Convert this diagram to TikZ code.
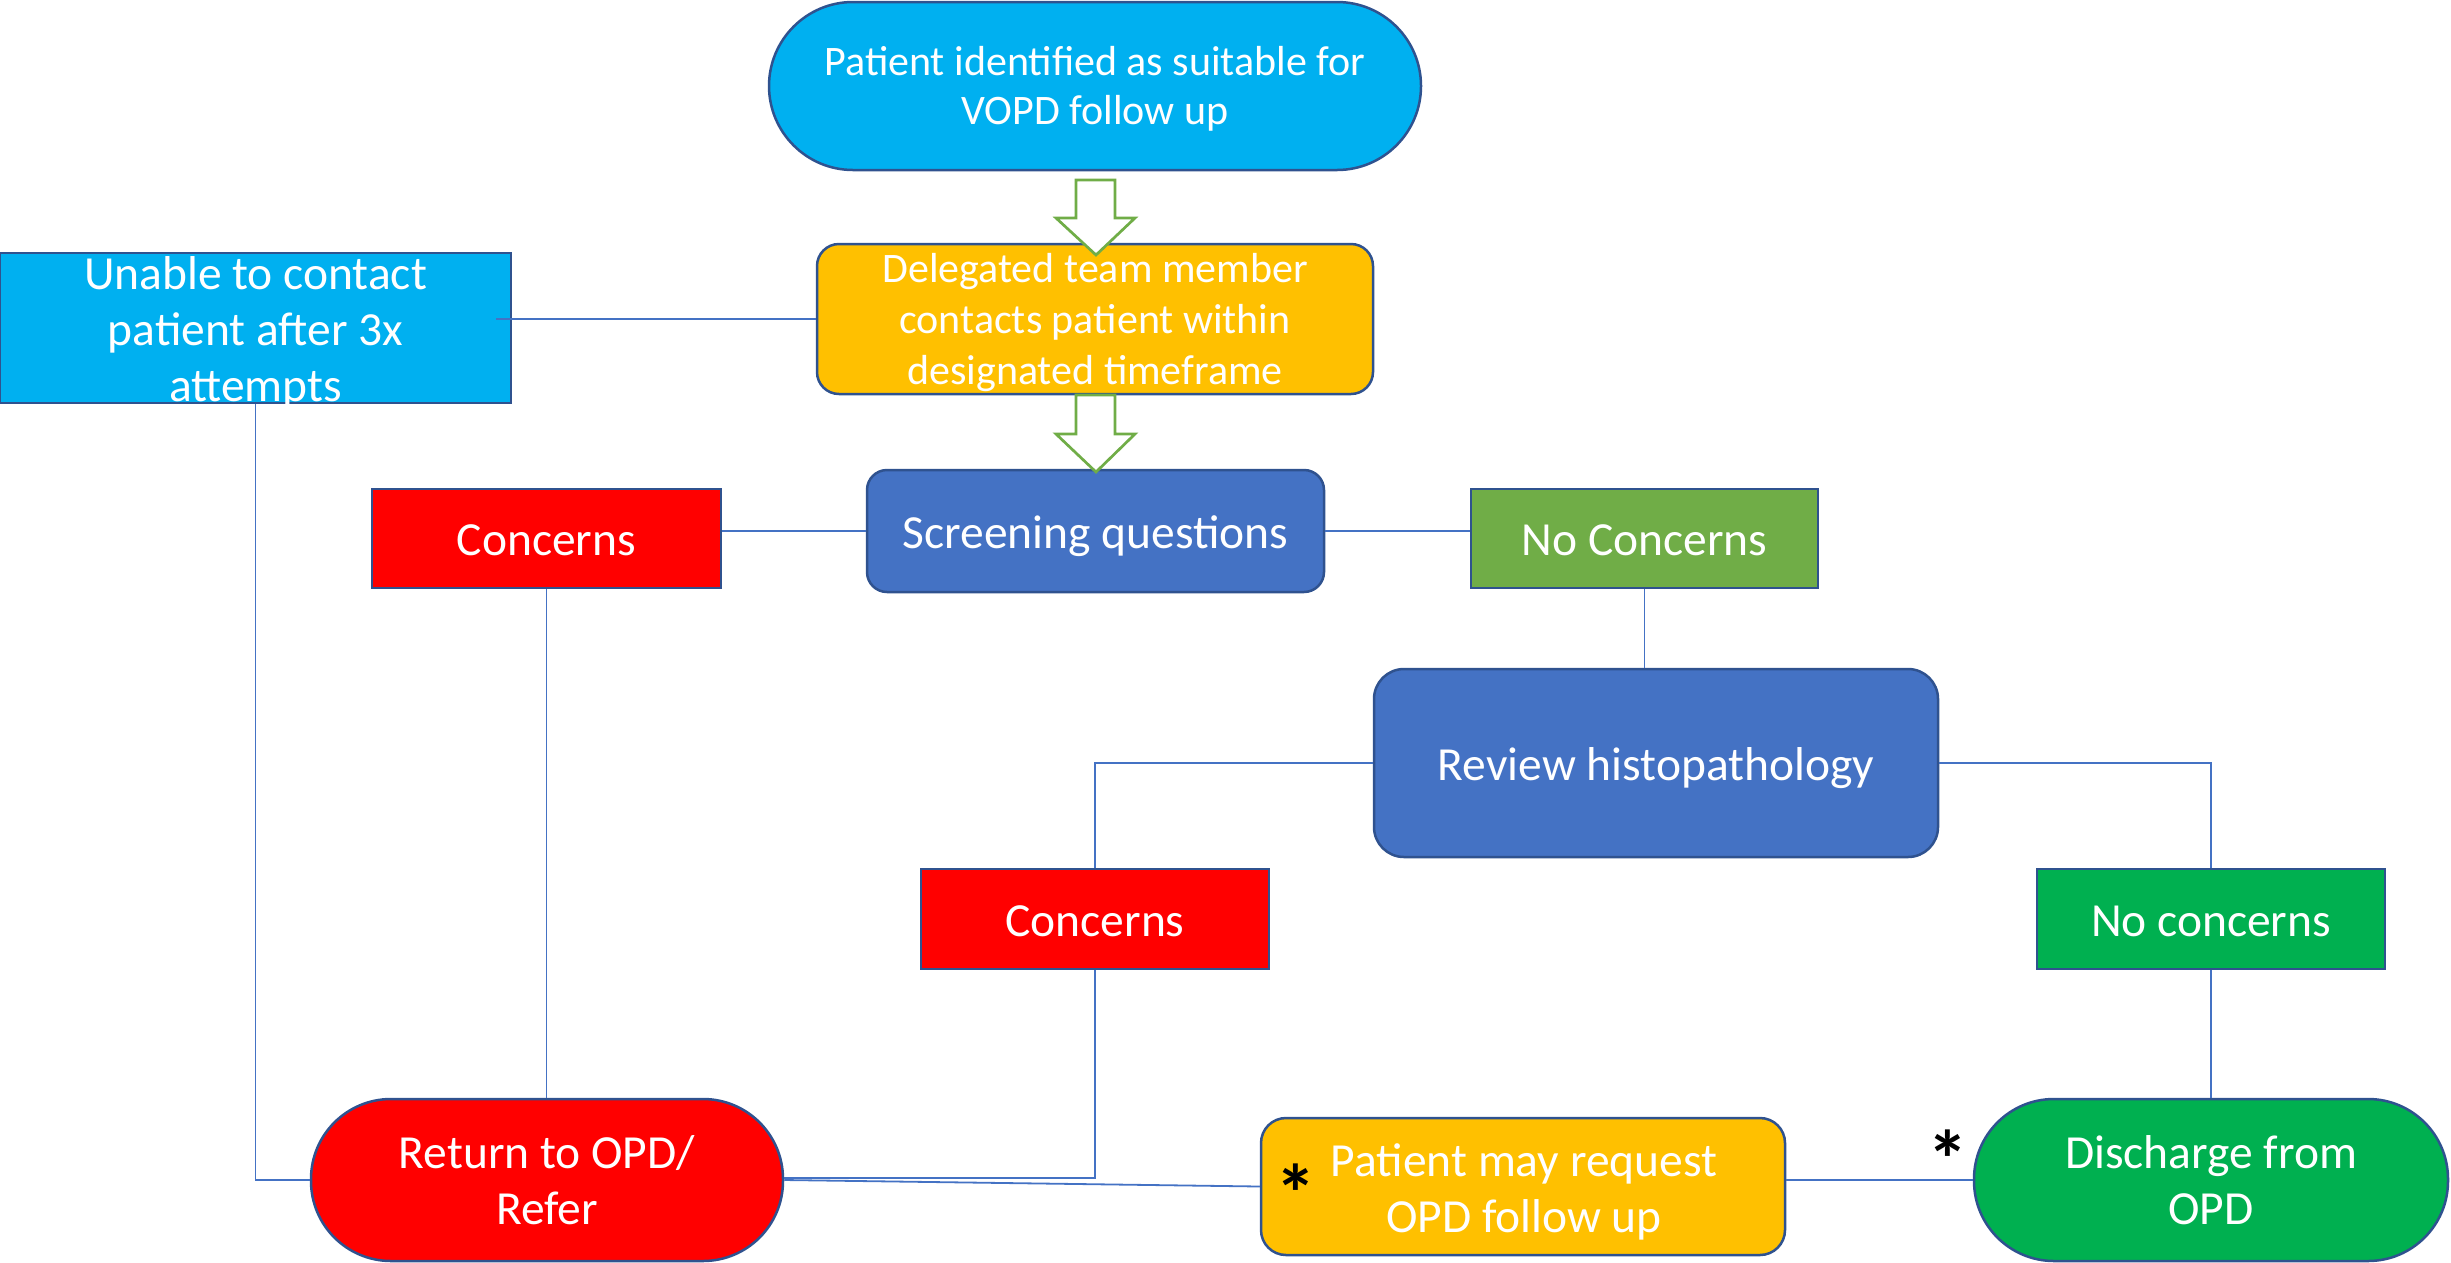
\documentclass[tikz,border=0pt]{standalone}
\usepackage{fontspec}
\setmainfont{Carlito}
\usetikzlibrary{calc}
\definecolor{skyb}{HTML}{00B0F0}
\definecolor{gold}{HTML}{FFC000}
\definecolor{blu}{HTML}{4472C4}
\definecolor{redd}{HTML}{FF0000}
\definecolor{lgreen}{HTML}{70AD47}
\definecolor{dgreen}{HTML}{00B050}
\definecolor{edgeblue}{HTML}{2F528F}
\begin{document}
\begin{tikzpicture}[x=1pt,y=-1pt,
  box/.style={draw=edgeblue, line width=2.5pt, text=white, align=center, inner sep=0pt},
  txt/.style={text=white, align=center, inner sep=0pt},
  oneline/.style={text height=36pt, text depth=2pt},
  bigtext/.style={font=\fontsize{47.5}{56}\selectfont},
  smalltext/.style={font=\fontsize{42}{49}\selectfont},
  deltext/.style={font=\fontsize{42}{51}\selectfont},
  conn/.style={draw=blu, line width=1.8pt},
  hollow/.style={draw=lgreen, fill=white, line width=2.7pt, line join=miter},
  astx/.style={font=\fontsize{82}{82}\selectfont\bfseries, text=black, inner sep=0pt}]
\useasboundingbox (0,0) rectangle (2451,1262);

\node[box, fill=skyb, minimum width=652pt, minimum height=168pt, rounded corners=84pt] (top) at (1095,86) {};
\node[txt, smalltext] (topT) at ($(top.center)+(0,3)$) {Patient identified as suitable for\\VOPD follow up};
\node[box, fill=gold, minimum width=556pt, minimum height=150pt, rounded corners=22pt] (del) at (1095,319) {};
\node[txt, deltext] (delT) at ($(del.center)+(0,4)$) {Delegated team member\\contacts patient within\\designated timeframe};
\node[box, fill=skyb, minimum width=511pt, minimum height=150pt] (unable) at (255.5,328) {};
\node[txt, bigtext] (unableT) at ($(unable.center)+(0,5)$) {Unable to contact\\patient after 3x\\attempts};
\node[box, bigtext, oneline, fill=blu, minimum width=457pt, minimum height=122pt, rounded corners=20pt] (screen) at (1095.5,531) {Screening questions};
\node[box, bigtext, oneline, fill=redd, minimum width=349pt, minimum height=99pt] (conc1) at (546.5,538.5) {Concerns};
\node[box, bigtext, oneline, fill=lgreen, minimum width=347pt, minimum height=99pt] (noc1) at (1644.5,538.5) {No Concerns};
\node[box, bigtext, oneline, fill=blu, minimum width=564pt, minimum height=188pt, rounded corners=30pt] (review) at (1656,763) {Review histopathology};
\node[box, bigtext, oneline, fill=redd, minimum width=348pt, minimum height=100pt] (conc2) at (1095,919) {Concerns};
\node[box, bigtext, oneline, fill=dgreen, minimum width=348pt, minimum height=100pt] (noc2) at (2211,919) {No concerns};
\node[box, bigtext, fill=redd, minimum width=472pt, minimum height=162pt, rounded corners=80pt] (ret) at (547,1180) {Return to OPD/\\Refer};
\node[box, fill=gold, minimum width=524pt, minimum height=137pt, rounded corners=25pt] (pat) at (1523,1186.5) {};
\node[txt, bigtext] (patT) at ($(pat.center)+(1,5)$) {Patient may request\\OPD follow up};
\node[box, bigtext, fill=dgreen, minimum width=474pt, minimum height=162pt, rounded corners=80pt] (dis) at (2211,1180) {Discharge from\\OPD};

\node[astx] (ast1) at (1296,1193) {*};
\node[astx] (ast2) at (1948,1159) {*};

\draw[conn] ($(unable.east |- del.west)+(-16,0)$) -- (del.west);
\draw[conn] (unable.south) |- (ret.west);
\draw[conn] (conc1.east |- screen.west) -- (screen.west);
\draw[conn] (screen.east) -- (noc1.west |- screen.east);
\draw[conn] (conc1.south) -- (conc1.south |- ret.north);
\draw[conn] (noc1.south) -- (noc1.south |- review.north);
\draw[conn] (review.west) -| (conc2.north);
\draw[conn] (review.east) -| (noc2.north);
\draw[conn] (conc2.south) |- ($(ret.east)+(0,-2)$);
\draw[conn] (ret.east) -- (pat.west);
\draw[conn] (pat.east |- dis.west) -- (dis.west);
\draw[conn] (noc2.south) -- (dis.north);

\draw[hollow] (1076,180) -- (1115,180) -- (1115,218) -- (1135,218) -- (1096,255) -- (1056,218) -- (1076,218) -- cycle;
\draw[hollow] (1076,395) -- (1115,395) -- (1115,434) -- (1135,434) -- (1096,472) -- (1056,434) -- (1076,434) -- cycle;
\end{tikzpicture}
\end{document}
